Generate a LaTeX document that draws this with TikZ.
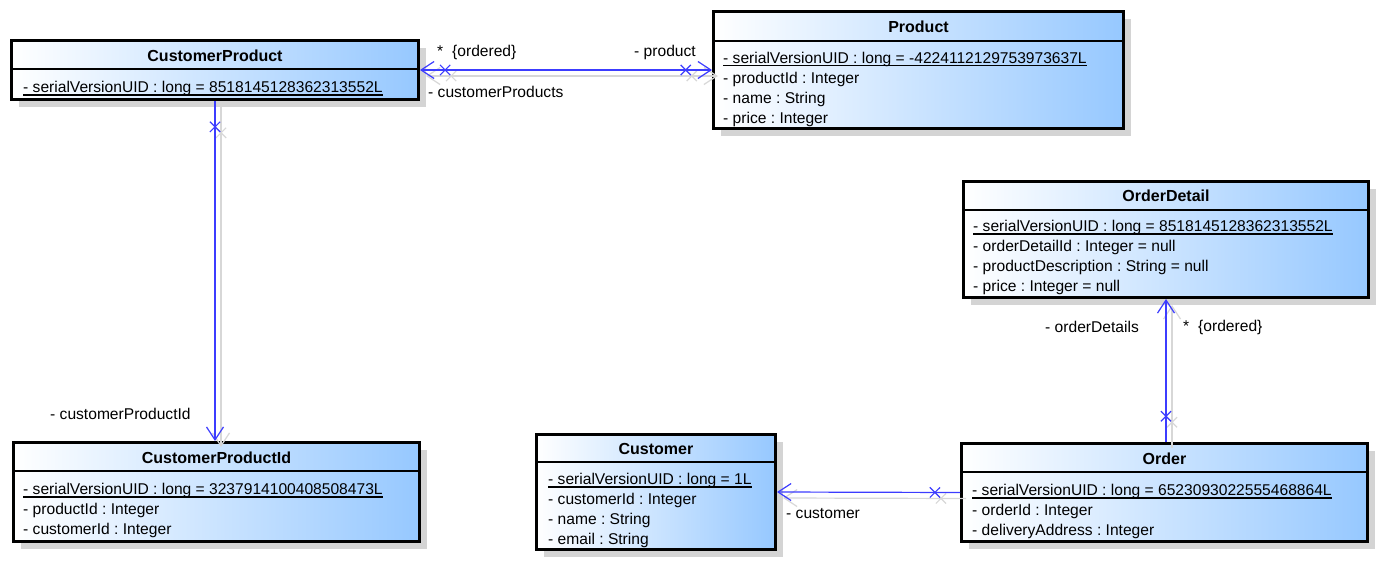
\documentclass[tikz,border=0pt]{standalone}
\usepackage{fontspec}
\setmainfont{Liberation Sans}
\frenchspacing
\usetikzlibrary{arrows.meta,shadows,shapes.misc}
\definecolor{umlblue}{RGB}{150,200,255}
\definecolor{umlline}{RGB}{60,60,255}
\definecolor{boxshadow}{RGB}{212,212,212}
\definecolor{lineshadow}{RGB}{215,215,215}
\tikzset{
  cls/.style={draw=black, line width=3pt, left color=white, right color=umlblue,
    drop shadow={shadow xshift=7pt, shadow yshift=-7pt, fill=boxshadow, opacity=1},
    inner sep=0pt},
  sepline/.style={line width=1.5pt, black},
  ttl/.style={font=\fontsize{16}{19}\selectfont\bfseries, anchor=base, inner sep=0pt},
  attr/.style={font=\fontsize{15.6}{18}\selectfont, anchor=base west, inner sep=0pt},
  lbl/.style={font=\fontsize{15.6}{18}\selectfont, anchor=base west, inner sep=0pt},
  uline/.style={line width=1.3pt, black},
  tipV/.tip={Straight Barb[length=13pt,width=17pt,line width=1.2pt]},
  conn/.style={draw=umlline, line width=1.2pt},
  connsh/.style={draw=lineshadow, line width=1.2pt},
  xmark/.style={cross out, draw, line width=1.2pt, minimum size=9pt, inner sep=0pt, sloped},
}
\begin{document}
\begin{tikzpicture}[x=1pt,y=-1pt]
\useasboundingbox (0,0) rectangle (1376,563);

% ---------- boxes ----------
\node[cls, minimum width=407, minimum height=59] (cp) at (215,70) {};
\node[cls, minimum width=410, minimum height=117] (prod) at (918.5,70) {};
\node[cls, minimum width=405, minimum height=116] (od) at (1166,239.5) {};
\node[cls, minimum width=406, minimum height=99] (cpid) at (216.5,492) {};
\node[cls, minimum width=239, minimum height=115] (cust) at (656,492) {};
\node[cls, minimum width=406, minimum height=98] (ord) at (1164.5,492.5) {};

% separators
\draw[sepline] (cp.west |- 0,69) -- (cp.east |- 0,69);
\draw[sepline] (prod.west |- 0,41) -- (prod.east |- 0,41);
\draw[sepline] (od.west |- 0,210) -- (od.east |- 0,210);
\draw[sepline] (cpid.west |- 0,471) -- (cpid.east |- 0,471);
\draw[sepline] (cust.west |- 0,462) -- (cust.east |- 0,462);
\draw[sepline] (ord.west |- 0,472) -- (ord.east |- 0,472);

% titles
\node[ttl] (cpT) at (cp.center |- 0,61) {CustomerProduct};
\node[ttl] (prodT) at (prod.center |- 0,32) {Product};
\node[ttl] (odT) at (od.center |- 0,201) {OrderDetail};
\node[ttl] (cpidT) at (cpid.center |- 0,463) {CustomerProductId};
\node[ttl] (custT) at (cust.center |- 0,454) {Customer};
\node[ttl] (ordT) at (ord.center |- 0,464) {Order};

% attributes
\node[attr] (cpA) at (23,92.5) {- serialVersionUID : long = 8518145128362313552L};
\draw[uline] ([yshift=-2.5pt]cpA.base west) -- ([yshift=-2.5pt]cpA.base east);

\node[attr] (prodA) at (723,63) {- serialVersionUID : long = -4224112129753973637L};
\draw[uline] ([yshift=-2.5pt]prodA.base west) -- ([yshift=-2.5pt]prodA.base east);
\node[attr] (prodB) at (723,83) {- productId : Integer};
\node[attr] (prodC) at (723,103) {- name : String};
\node[attr] (prodD) at (723,123) {- price : Integer};

\node[attr] (odA) at (973,231.5) {- serialVersionUID : long = 8518145128362313552L};
\draw[uline] ([yshift=-2.5pt]odA.base west) -- ([yshift=-2.5pt]odA.base east);
\node[attr] (odB) at (973,251.5) {- orderDetailId : Integer = null};
\node[attr] (odC) at (973,271.5) {- productDescription : String = null};
\node[attr] (odD) at (973,291.5) {- price : Integer = null};

\node[attr] (cpidA) at (23,494.5) {- serialVersionUID : long = 3237914100408508473L};
\draw[uline] ([yshift=-2.5pt]cpidA.base west) -- ([yshift=-2.5pt]cpidA.base east);
\node[attr] (cpidB) at (23,514.5) {- productId : Integer};
\node[attr] (cpidC) at (23,534.5) {- customerId : Integer};

\node[attr] (custA) at (548,484.5) {- serialVersionUID : long = 1L};
\draw[uline] ([yshift=-2.5pt]custA.base west) -- ([yshift=-2.5pt]custA.base east);
\node[attr] (custB) at (548,504.5) {- customerId : Integer};
\node[attr] (custC) at (548,524.5) {- name : String};
\node[attr] (custD) at (548,544.5) {- email : String};

\node[attr] (ordA) at (972,495.5) {- serialVersionUID : long = 6523093022555468864L};
\draw[uline] ([yshift=-2.5pt]ordA.base west) -- ([yshift=-2.5pt]ordA.base east);
\node[attr] (ordB) at (972,515.5) {- orderId : Integer};
\node[attr] (ordC) at (972,535.5) {- deliveryAddress : Integer};

% ---------- connector shadows ----------
\begin{scope}[transform canvas={xshift=6pt,yshift=-6pt}]
  \draw[connsh, {tipV}-{tipV}] (cp.east) -- node[xmark, pos=0.086] {} node[xmark, pos=0.91] {} (prod.west);
  \draw[connsh, -{tipV}] (cp.south) -- node[xmark, pos=0.076] {} (cp.south |- cpid.north);
  \draw[connsh, -{tipV}] (od.south |- ord.north) -- node[xmark, pos=0.18] {} (od.south);
  \draw[connsh, -{tipV}] (ord.west) -- node[xmark, pos=0.137] {} (cust.east);
\end{scope}
% ---------- connectors ----------
\draw[conn, {tipV}-{tipV}] (cp.east) -- node[xmark, pos=0.086] {} node[xmark, pos=0.91] {} (prod.west);
\draw[conn, -{tipV}] (cp.south) -- node[xmark, pos=0.076] {} (cp.south |- cpid.north);
\draw[conn, -{tipV}] (od.south |- ord.north) -- node[xmark, pos=0.18] {} (od.south);
\draw[conn, -{tipV}] (ord.west) -- node[xmark, pos=0.137] {} (cust.east);

% ---------- labels ----------
\node[lbl] (l1) at (437,56.5) {*};
\node[lbl] (l2) at (452,56.5) {\{ordered\}};
\node[lbl] (l3) at (634,56.5) {- product};
\node[lbl] (l4) at (428,97.5) {- customerProducts};
\node[lbl] (l5) at (50,419.5) {- customerProductId};
\node[lbl] (l6) at (1045,332.5) {- orderDetails};
\node[lbl] (l7) at (1183,331.5) {*};
\node[lbl] (l8) at (1198,331.5) {\{ordered\}};
\node[lbl] (l9) at (786,518.5) {- customer};
\end{tikzpicture}
\end{document}
